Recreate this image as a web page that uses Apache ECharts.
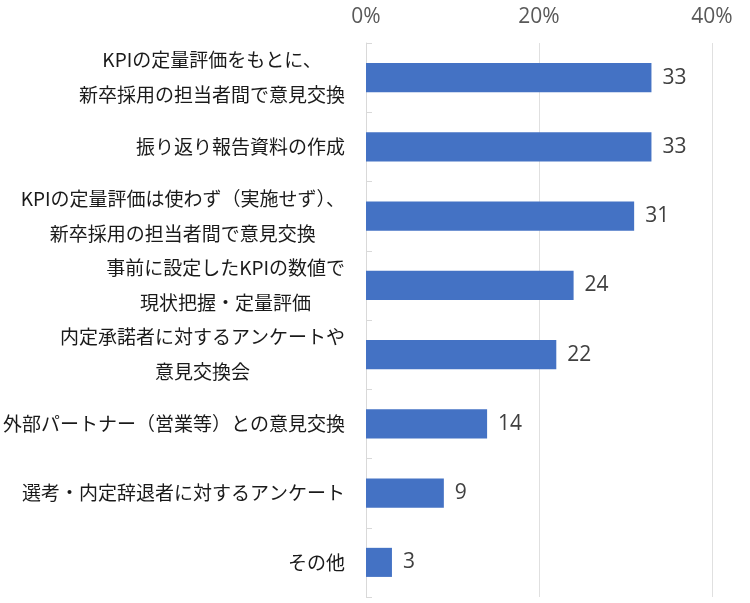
<!DOCTYPE html>
<html><head><meta charset="utf-8">
<script src="https://cdn.jsdelivr.net/npm/echarts@6/dist/echarts.min.js"></script>
<style>html,body{margin:0;padding:0;background:#fff}#c{width:750px;height:603px}</style>
</head><body><div id="c"></div>
<script>
var categories = [
  'KPIの定量評価をもとに、\n新卒採用の担当者間で意見交換',
  '振り返り報告資料の作成',
  'KPIの定量評価は使わず（実施せず）、\n新卒採用の担当者間で意見交換',
  '事前に設定したKPIの数値で\n現状把握・定量評価',
  '内定承諾者に対するアンケートや\n意見交換会',
  '外部パートナー（営業等）との意見交換',
  '選考・内定辞退者に対するアンケート',
  'その他'
];
var values = [33, 33, 31, 24, 22, 14, 9, 3];
var xTicks = [0, 20, 40];

var chart = echarts.init(document.getElementById('c'));
chart.setOption({
  animation: false,
  grid: {left: 364, right: 38, top: 43, bottom: 6, containLabel: false},
  xAxis: {
    type: 'value', position: 'top', min: xTicks[0], max: xTicks[xTicks.length-1], interval: xTicks[1]-xTicks[0],
    axisLine: {show: false}, axisTick: {show: false},
    splitLine: {lineStyle: {color: '#e0e0e0', width: 1}},
    axisLabel: {formatter: '{value}%', fontSize: 21, color: '#595959', margin: 15,
      fontFamily: '"Open Sans", sans-serif'}
  },
  yAxis: {
    type: 'category', data: categories, inverse: true,
    axisLine: {lineStyle: {color: '#d9d9d9'}},
    axisTick: {show: true, inside: true, length: 6, lineStyle: {color: '#d9d9d9'}},
    axisLabel: {
      margin: 21, align: 'right', color: '#1a1a1a',
      formatter: function (v) { return v.split('\n').map(function (s) { return '{a|' + s + '}'; }).join('\n'); },
      rich: {a: {align: 'center', fontSize: 19, lineHeight: 35, color: '#1a1a1a',
        fontFamily: '"Noto Sans CJK JP", sans-serif'}}
    }
  },
  series: [{
    type: 'bar', data: values, barCategoryGap: '58%',
    itemStyle: {color: '#4472C4'},
    label: {show: true, position: 'right', distance: 11, fontSize: 21, color: '#404040',
      fontFamily: '"Open Sans", sans-serif'}
  }]
});
</script></body></html>
